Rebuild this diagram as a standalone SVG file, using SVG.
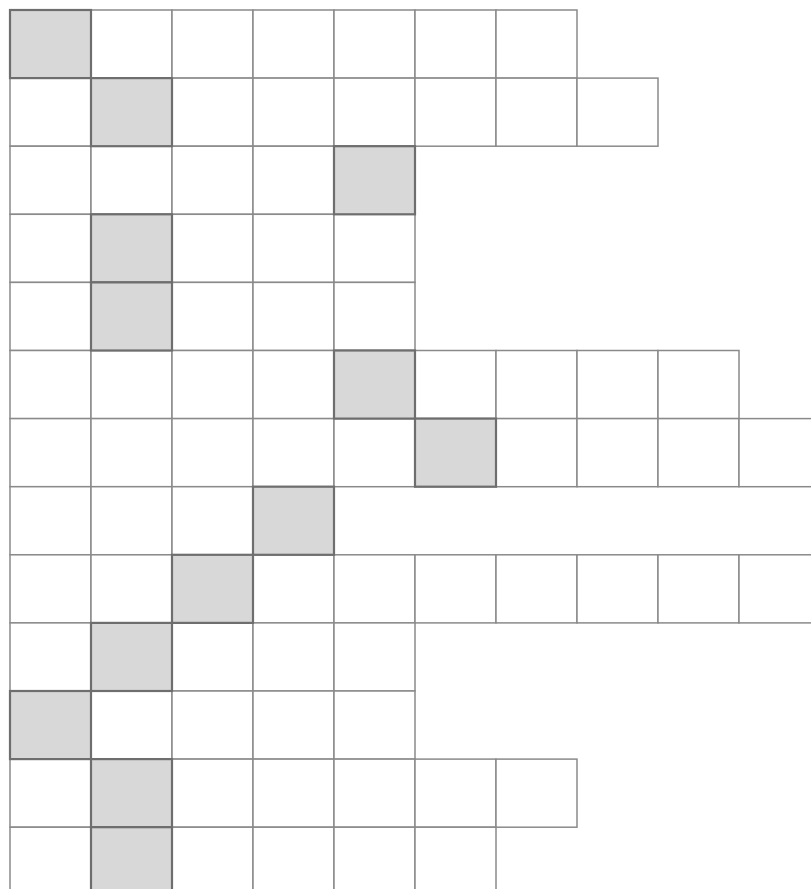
<svg xmlns="http://www.w3.org/2000/svg" width="811" height="889" viewBox="0 0 811 889">
<defs>
<style>
.c{fill:#fff;stroke:#8a8a8a;stroke-width:1.5}
.s{fill:#d8d8d8;stroke:#6e6e6e;stroke-width:2.2}
</style>
<g id="cell"><rect class="c" x="0" y="0" width="81" height="68.1"/></g>
<g id="shade"><rect class="s" x="0" y="0" width="81" height="68.1"/></g>
</defs>
<rect width="811" height="889" fill="#fff"/>
<g id="row1">
<use href="#cell" x="10" y="10"/><use href="#cell" x="91" y="10"/><use href="#cell" x="172" y="10"/><use href="#cell" x="253" y="10"/><use href="#cell" x="334" y="10"/><use href="#cell" x="415" y="10"/><use href="#cell" x="496" y="10"/>
</g>
<g id="row2">
<use href="#cell" x="10" y="78.1"/><use href="#cell" x="91" y="78.1"/><use href="#cell" x="172" y="78.1"/><use href="#cell" x="253" y="78.1"/><use href="#cell" x="334" y="78.1"/><use href="#cell" x="415" y="78.1"/><use href="#cell" x="496" y="78.1"/><use href="#cell" x="577" y="78.1"/>
</g>
<g id="row3">
<use href="#cell" x="10" y="146.2"/><use href="#cell" x="91" y="146.2"/><use href="#cell" x="172" y="146.2"/><use href="#cell" x="253" y="146.2"/><use href="#cell" x="334" y="146.2"/>
</g>
<g id="row4">
<use href="#cell" x="10" y="214.3"/><use href="#cell" x="91" y="214.3"/><use href="#cell" x="172" y="214.3"/><use href="#cell" x="253" y="214.3"/><use href="#cell" x="334" y="214.3"/>
</g>
<g id="row5">
<use href="#cell" x="10" y="282.4"/><use href="#cell" x="91" y="282.4"/><use href="#cell" x="172" y="282.4"/><use href="#cell" x="253" y="282.4"/><use href="#cell" x="334" y="282.4"/>
</g>
<g id="row6">
<use href="#cell" x="10" y="350.5"/><use href="#cell" x="91" y="350.5"/><use href="#cell" x="172" y="350.5"/><use href="#cell" x="253" y="350.5"/><use href="#cell" x="334" y="350.5"/><use href="#cell" x="415" y="350.5"/><use href="#cell" x="496" y="350.5"/><use href="#cell" x="577" y="350.5"/><use href="#cell" x="658" y="350.5"/>
</g>
<g id="row7">
<use href="#cell" x="10" y="418.6"/><use href="#cell" x="91" y="418.6"/><use href="#cell" x="172" y="418.6"/><use href="#cell" x="253" y="418.6"/><use href="#cell" x="334" y="418.6"/><use href="#cell" x="415" y="418.6"/><use href="#cell" x="496" y="418.6"/><use href="#cell" x="577" y="418.6"/><use href="#cell" x="658" y="418.6"/><use href="#cell" x="739" y="418.6"/>
</g>
<g id="row8">
<use href="#cell" x="10" y="486.7"/><use href="#cell" x="91" y="486.7"/><use href="#cell" x="172" y="486.7"/><use href="#cell" x="253" y="486.7"/>
</g>
<g id="row9">
<use href="#cell" x="10" y="554.8"/><use href="#cell" x="91" y="554.8"/><use href="#cell" x="172" y="554.8"/><use href="#cell" x="253" y="554.8"/><use href="#cell" x="334" y="554.8"/><use href="#cell" x="415" y="554.8"/><use href="#cell" x="496" y="554.8"/><use href="#cell" x="577" y="554.8"/><use href="#cell" x="658" y="554.8"/><use href="#cell" x="739" y="554.8"/>
</g>
<g id="row10">
<use href="#cell" x="10" y="622.9"/><use href="#cell" x="91" y="622.9"/><use href="#cell" x="172" y="622.9"/><use href="#cell" x="253" y="622.9"/><use href="#cell" x="334" y="622.9"/>
</g>
<g id="row11">
<use href="#cell" x="10" y="691"/><use href="#cell" x="91" y="691"/><use href="#cell" x="172" y="691"/><use href="#cell" x="253" y="691"/><use href="#cell" x="334" y="691"/>
</g>
<g id="row12">
<use href="#cell" x="10" y="759.1"/><use href="#cell" x="91" y="759.1"/><use href="#cell" x="172" y="759.1"/><use href="#cell" x="253" y="759.1"/><use href="#cell" x="334" y="759.1"/><use href="#cell" x="415" y="759.1"/><use href="#cell" x="496" y="759.1"/>
</g>
<g id="row13">
<use href="#cell" x="10" y="827.2"/><use href="#cell" x="91" y="827.2"/><use href="#cell" x="172" y="827.2"/><use href="#cell" x="253" y="827.2"/><use href="#cell" x="334" y="827.2"/><use href="#cell" x="415" y="827.2"/>
</g>
<g id="shaded">
<use href="#shade" x="10" y="10"/>
<use href="#shade" x="91" y="78.1"/>
<use href="#shade" x="334" y="146.2"/>
<use href="#shade" x="91" y="214.3"/>
<use href="#shade" x="91" y="282.4"/>
<use href="#shade" x="334" y="350.5"/>
<use href="#shade" x="415" y="418.6"/>
<use href="#shade" x="253" y="486.7"/>
<use href="#shade" x="172" y="554.8"/>
<use href="#shade" x="91" y="622.9"/>
<use href="#shade" x="10" y="691"/>
<use href="#shade" x="91" y="759.1"/>
<use href="#shade" x="91" y="827.2"/>
</g>
</svg>
